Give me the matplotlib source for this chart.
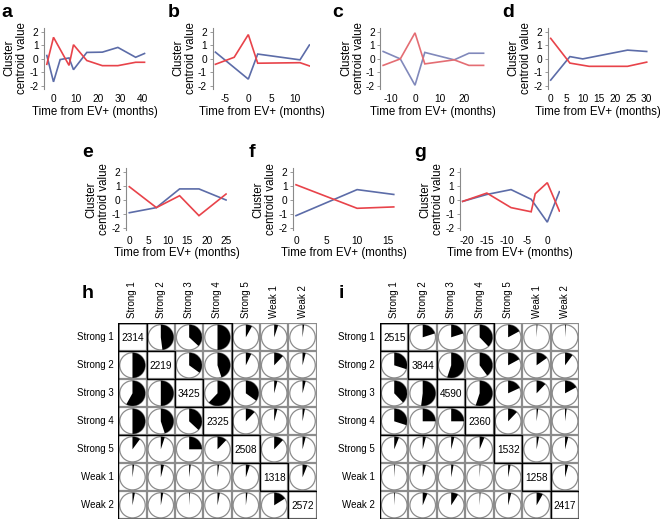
import matplotlib
matplotlib.use('Agg')
import matplotlib.pyplot as plt
from matplotlib.patches import Wedge, Circle, Rectangle

plt.rcParams['font.family'] = ['Liberation Sans', 'DejaVu Sans']
plt.rcParams['axes.unicode_minus'] = False

# ---------------- data ----------------
a_blue_t = [-3, 0, 3, 7, 9, 15, 22, 29, 37, 41]
a_blue = [0.25, -1.7, -0.05, 0.07, -0.8, 0.48, 0.5, 0.85, 0.12, 0.4]
a_red_t = [-3, 0, 7, 9, 15, 22, 29, 37, 41]
a_red = [-0.4, 1.6, -0.48, 1.05, -0.12, -0.5, -0.5, -0.25, -0.25]

b_blue_t = [-7, 0, 2, 11, 13]
b_blue = [0.5, -1.5, 0.36, -0.07, 1.03]
b_red_t = [-7, -3, 0, 2, 11, 13]
b_red = [-0.4, 0.12, 1.8, -0.32, -0.28, -0.52]

c_t = [-13, -6, 0, 4, 16, 22, 28]
c_blue = [0.55, 0.0, -1.95, 0.48, -0.07, 0.42, 0.42]
c_red = [-0.48, 0.0, 1.93, -0.37, -0.07, -0.48, -0.48]

d_blue_t = [0, 6, 10, 24, 30]
d_blue = [-1.57, 0.17, 0.0, 0.65, 0.55]
d_red_t = [0, 6, 12, 24, 30]
d_red = [1.52, -0.31, -0.55, -0.55, -0.24]

e_t = [0, 7, 13, 18, 25]
e_blue = [-0.92, -0.55, 0.8, 0.8, 0.0]
e_red = [0.96, -0.55, 0.31, -1.13, 0.43]

f_t = [0, 10, 16]
f_blue = [-1.13, 0.75, 0.4]
f_red = [1.1, -0.6, -0.5]

g_blue_t = [-21, -15, -9, -4, 0, 3]
g_blue = [-0.1, 0.4, 0.75, 0.05, -1.6, 0.6]
g_red_t = [-21, -15, -9, -4, -3, 0, 3]
g_red = [-0.1, 0.5, -0.55, -0.85, 0.45, 1.25, -0.8]

clusters = ['Strong 1', 'Strong 2', 'Strong 3', 'Strong 4', 'Strong 5', 'Weak 1', 'Weak 2']

h_diag = [2314, 2219, 3425, 2325, 2508, 1318, 2572]
h_frac = [
    [0, 0.48, 0.37, 0.50, 0.08, 0.05, 0.02],
    [0.50, 0, 0.35, 0.45, 0.07, 0.12, 0.04],
    [0.58, 0.50, 0, 0.62, 0.35, 0.04, 0.04],
    [0.50, 0.45, 0.37, 0, 0.12, 0.04, 0.03],
    [0.10, 0.05, 0.25, 0.12, 0, 0.12, 0.04],
    [0.02, 0.04, 0.02, 0.02, 0.05, 0, 0.06],
    [0.03, 0.03, 0.01, 0.03, 0.02, 0.16, 0],
]

i_diag = [2515, 3844, 4590, 2360, 1532, 1258, 2417]
i_frac = [
    [0, 0.20, 0.20, 0.38, 0.17, 0.01, 0.01],
    [0.30, 0, 0.55, 0.40, 0.17, 0.15, 0.10],
    [0.38, 0.52, 0, 0.55, 0.18, 0.12, 0.17],
    [0.30, 0.25, 0.25, 0, 0.12, 0.02, 0.02],
    [0.06, 0.04, 0.04, 0.06, 0, 0.03, 0.04],
    [0.01, 0.04, 0.03, 0.01, 0.03, 0, 0.04],
    [0.01, 0.06, 0.09, 0.01, 0.04, 0.08, 0],
]

# ---------------- layout helpers ----------------
W, H = 660, 523
fig = plt.figure(figsize=(W / 100, H / 100), dpi=100)

def px_axes(left, top, right, bottom):
    return fig.add_axes([left / W, 1 - bottom / H, (right - left) / W, (bottom - top) / H])

def ftext(x, y, s, **kw):
    return fig.text(x / W, 1 - y / H, s, **kw)

RED = '#e8434a'
BLUE = '#5c6ca8'

def line_panel(letter, letter_x, spine, zero_px, ppm, t_end, row, xticks,
               bt, bv, rt, rv, cb=BLUE, cr=RED):
    if row == 0:
        y0, ppu, lab_y, let_y = 58.9, 13.5, 112, 17
    else:
        y0, ppu, lab_y, let_y = 200.0, 13.85, 253, 157
    ylo, yhi = -2.2, 2.3
    top = y0 - yhi * ppu
    bottom = y0 - ylo * ppu
    right = zero_px + t_end * ppm + 1
    ax = px_axes(spine, top, right, bottom)
    ax.set_xlim((spine - zero_px) / ppm, (right - zero_px) / ppm)
    ax.set_ylim(ylo, yhi)
    ax.plot(bt, bv, color=cb, lw=1.2, solid_joinstyle='miter')
    ax.plot(rt, rv, color=cr, lw=1.2, solid_joinstyle='miter')
    for s in ['top', 'right', 'bottom']:
        ax.spines[s].set_visible(False)
    ax.spines['left'].set_color('#8a8a8a')
    ax.spines['left'].set_linewidth(0.8)
    ax.set_yticks([-2, -1, 0, 1, 2])
    ax.set_xticks(xticks)
    ax.tick_params(axis='y', length=2, width=0.6, color='#8a8a8a', pad=2, labelsize=7.3)
    ax.tick_params(axis='x', length=0, pad=4, labelsize=7.3)
    ax.patch.set_alpha(0)
    cx = (spine + right) / 2
    ftext(cx, lab_y, 'Time from EV+ (months)', fontsize=8.3, ha='center', va='center')
    ftext(spine - 28, (top + bottom) / 2, 'Cluster\ncentroid value', fontsize=8.3,
          rotation=90, ha='center', va='center', multialignment='center', linespacing=1.1)
    ftext(letter_x, let_y, letter, fontsize=14, fontweight='bold', ha='left', va='baseline')
    return ax

line_panel('a', 1, 44, 53.5, 2.22, 41, 0, [0, 10, 20, 30, 40],
           a_blue_t, a_blue, a_red_t, a_red)
line_panel('b', 168, 212.6, 248.3, 4.7, 13, 0, [-5, 0, 5, 10],
           b_blue_t, b_blue, b_red_t, b_red)
line_panel('c', 332, 380.4, 415, 2.45, 28, 0, [-10, 0, 10, 20],
           c_t, c_blue, c_t, c_red, cb='#8189bb', cr='#e46d73')
line_panel('d', 502, 547.7, 550.7, 3.2, 30, 0, [0, 5, 10, 15, 20, 25, 30],
           d_blue_t, d_blue, d_red_t, d_red)
line_panel('e', 82, 126, 129.3, 3.87, 25, 1, [0, 5, 10, 15, 20, 25],
           e_t, e_blue, e_t, e_red)
line_panel('f', 249, 293, 296, 6.11, 16, 1, [0, 5, 10, 15],
           f_t, f_blue, f_t, f_red)
line_panel('g', 414, 459.7, 547.3, 4.03, 3, 1, [-20, -15, -10, -5, 0],
           g_blue_t, g_blue, g_red_t, g_red)

# ---------------- pie grids ----------------
GRAY = '#8c8c8c'

def grid_panel(letter, letter_x, left, right, top, bottom, frac, diag):
    ax = px_axes(left, top, right, bottom)
    n = len(clusters)
    ax.set_xlim(0, n)
    ax.set_ylim(n, 0)
    ax.axis('off')
    # gray grid
    for k in range(n + 1):
        ax.plot([k, k], [0, n], color=GRAY, lw=1.6, solid_capstyle='butt', zorder=1)
        ax.plot([0, n], [k, k], color=GRAY, lw=1.6, solid_capstyle='butt', zorder=1)
    for r in range(n):
        for c in range(n):
            cxy = (c + 0.5, r + 0.5)
            if r == c:
                ax.text(c + 0.5, r + 0.52, str(diag[r]), ha='center', va='center', fontsize=7.3, zorder=5)
                continue
            ax.add_patch(Circle(cxy, 0.45, facecolor='white', edgecolor=GRAY, lw=0.9, zorder=3))
            f = frac[r][c]
            # y axis is inverted: 270 deg points up on screen, increasing angle runs clockwise
            ax.add_patch(Wedge(cxy, 0.45, 270, 270 + 360 * f, facecolor='black',
                               edgecolor='none', zorder=4))
    # black outlines: diagonal cells, strong 1-4 block, left and bottom frame
    for k in range(n):
        ax.add_patch(Rectangle((k, k), 1, 1, fill=False, edgecolor='black', lw=1.0, zorder=6))
    ax.add_patch(Rectangle((0, 0), 4, 4, fill=False, edgecolor='black', lw=1.0, zorder=6))
    ax.plot([0, 0, n], [0, n, n], color='black', lw=1.0, zorder=6)
    for k, lab in enumerate(clusters):
        ax.text(k + 0.5, -0.18, lab, rotation=90, ha='center', va='bottom', fontsize=7, clip_on=False)
        ax.text(-0.17, k + 0.5, lab, ha='right', va='center', fontsize=7, clip_on=False)
    ftext(letter_x, 298, letter, fontsize=14, fontweight='bold', ha='left', va='baseline')

grid_panel('h', 82, 118.3, 316.7, 323.3, 519.3, h_frac, h_diag)
grid_panel('i', 339, 380.0, 579.3, 323.3, 519.3, i_frac, i_diag)

fig.savefig('out.png', dpi=100)
